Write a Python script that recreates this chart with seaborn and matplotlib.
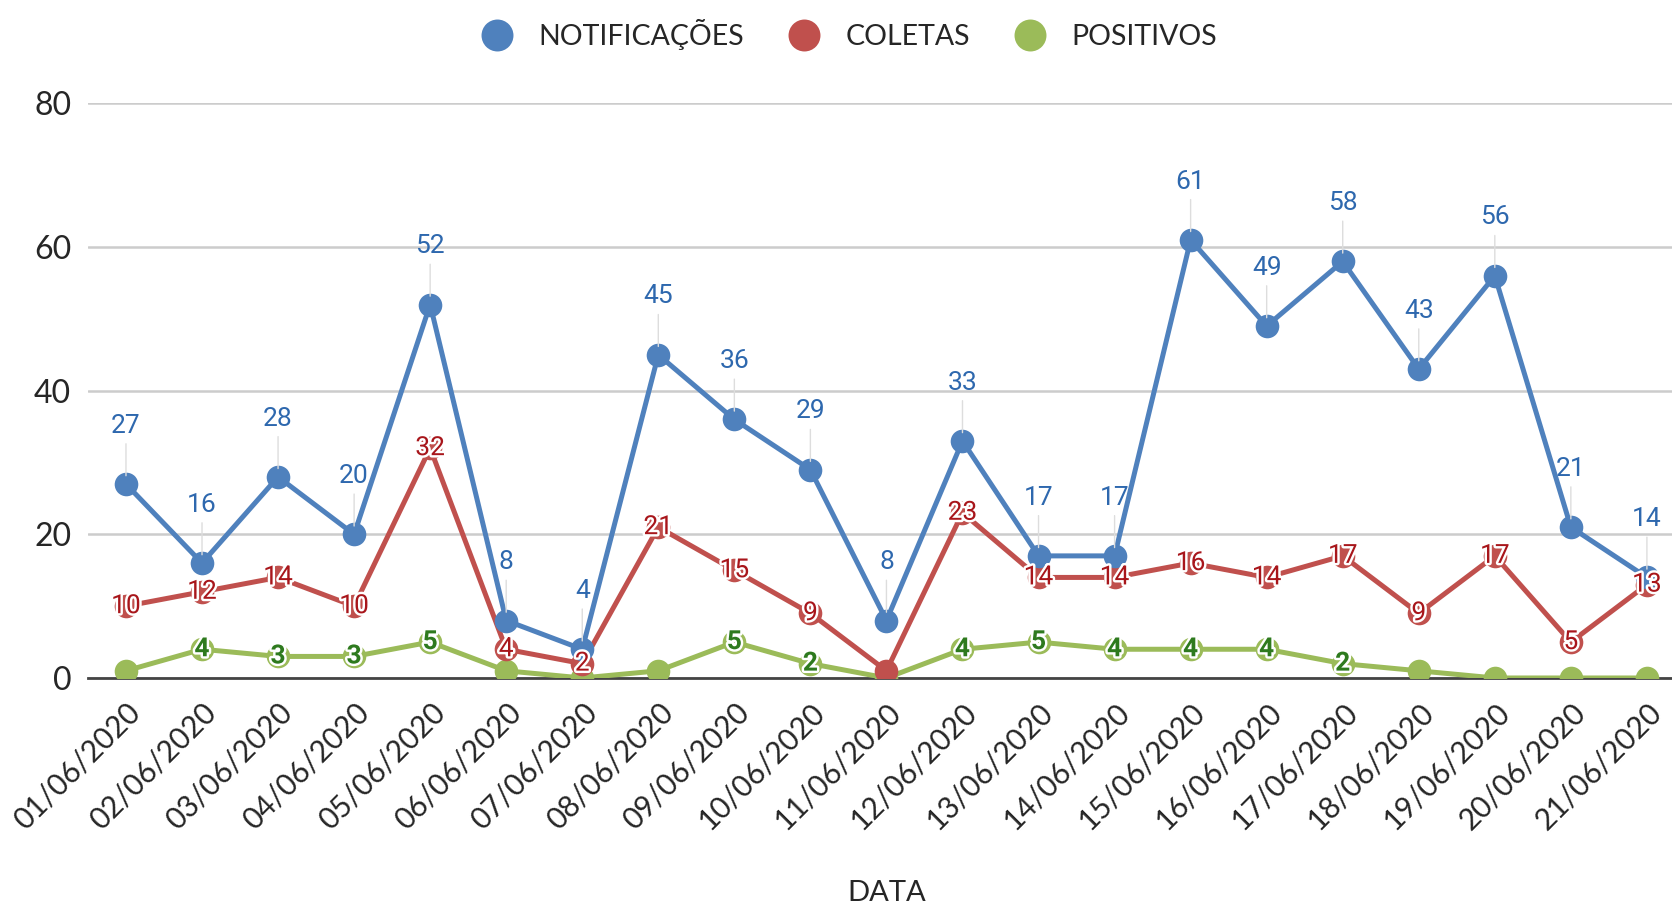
import numpy as np
import pandas as pd
import matplotlib
matplotlib.use("Agg")
import matplotlib.pyplot as plt
import matplotlib.patheffects as pe
import seaborn as sns

datas = ["01/06/2020", "02/06/2020", "03/06/2020", "04/06/2020", "05/06/2020",
         "06/06/2020", "07/06/2020", "08/06/2020", "09/06/2020", "10/06/2020",
         "11/06/2020", "12/06/2020", "13/06/2020", "14/06/2020", "15/06/2020",
         "16/06/2020", "17/06/2020", "18/06/2020", "19/06/2020", "20/06/2020",
         "21/06/2020"]
notificacoes = [27, 16, 28, 20, 52, 8, 4, 45, 36, 29, 8, 33, 17, 17, 61, 49, 58, 43, 56, 21, 14]
coletas = [10, 12, 14, 10, 32, 4, 2, 21, 15, 9, 1, 23, 14, 14, 16, 14, 17, 9, 17, 5, 13]
positivos = [1, 4, 3, 3, 5, 1, 0, 1, 5, 2, 0, 4, 5, 4, 4, 4, 2, 1, 0, 0, 0]

series = ["NOTIFICAÇÕES", "COLETAS", "POSITIVOS"]
cores = {"NOTIFICAÇÕES": "#4F81BD", "COLETAS": "#C0504D", "POSITIVOS": "#9BBB59"}
cores_texto = {"NOTIFICAÇÕES": "#2E68AE", "COLETAS": "#A8161B", "POSITIVOS": "#2E7A1E"}

idx = np.arange(len(datas))
df = pd.DataFrame({
    "idx": np.tile(idx, 3),
    "valor": notificacoes + coletas + positivos,
    "serie": np.repeat(series, len(datas)),
})

sns.set_style("white")
plt.rcParams["font.family"] = ["Lato", "DejaVu Sans"]

fig = plt.figure(figsize=(16.72, 9.07), dpi=100)
ax = fig.add_axes([0.0526, 0.2525, 0.9474, 0.6335])

# lines drawn in reverse so blue sits on top
for s in series[::-1]:
    sns.lineplot(data=df[df.serie == s], x="idx", y="valor", color=cores[s],
                 marker="o", markersize=17, markeredgewidth=0, linewidth=3.6,
                 ax=ax, legend=False, zorder=3 if s == "NOTIFICAÇÕES" else 2)

# labels (Roboto)
rob = ["Roboto", "DejaVu Sans"]
for x, v in zip(idx, notificacoes):
    ax.annotate(str(v), (x, v), xytext=(0, 42), textcoords="offset points",
                ha="center", va="center", fontsize=19, family=rob,
                color=cores_texto["NOTIFICAÇÕES"],
                arrowprops=dict(arrowstyle="-", color="#dddddd", lw=1, shrinkA=2, shrinkB=6),
                zorder=5)
for s, vals in [("COLETAS", coletas), ("POSITIVOS", positivos)]:
    for x, v in zip(idx, vals):
        if v > 1:
            ax.text(x, v, str(v), ha="center", va="center", fontsize=19, family=rob,
                    color=cores_texto[s], zorder=6,
                    fontweight="bold" if s == "POSITIVOS" else "normal",
                    path_effects=[pe.withStroke(linewidth=3.5, foreground="white")])

ax.set_xlim(-0.5, 20.33)
ax.set_ylim(0, 80)
ax.set_yticks([0, 20, 40, 60, 80])
ax.grid(axis="y", color="#cccccc", linewidth=1.8)
ax.set_axisbelow(True)
for sp in ["top", "right", "left"]:
    ax.spines[sp].set_visible(False)
ax.spines["bottom"].set_color("#444444")
ax.spines["bottom"].set_linewidth(2)
ax.spines["bottom"].set_zorder(1)

ax.set_xticks(idx)
ax.set_xticklabels(datas, rotation=45, ha="right", rotation_mode="anchor", fontsize=21.5)
ax.tick_params(axis="x", length=0, pad=14)
ax.tick_params(axis="y", length=0, pad=12, labelsize=23)
ax.set_xlabel("DATA", fontsize=21)
ax.xaxis.label.set_va("center")
ax.xaxis.set_label_coords(0.504, -0.374)
ax.set_ylabel("")

handles = [plt.Line2D([], [], linestyle="", marker="o", markersize=23,
                      markeredgewidth=0, color=cores[s]) for s in series]
fig.legend(handles, series, loc="center", bbox_to_anchor=(0.504, 0.9625), ncol=3,
           frameon=False, fontsize=20.5, handletextpad=0.45, columnspacing=1.1)

fig.savefig("out.png", dpi=100)
